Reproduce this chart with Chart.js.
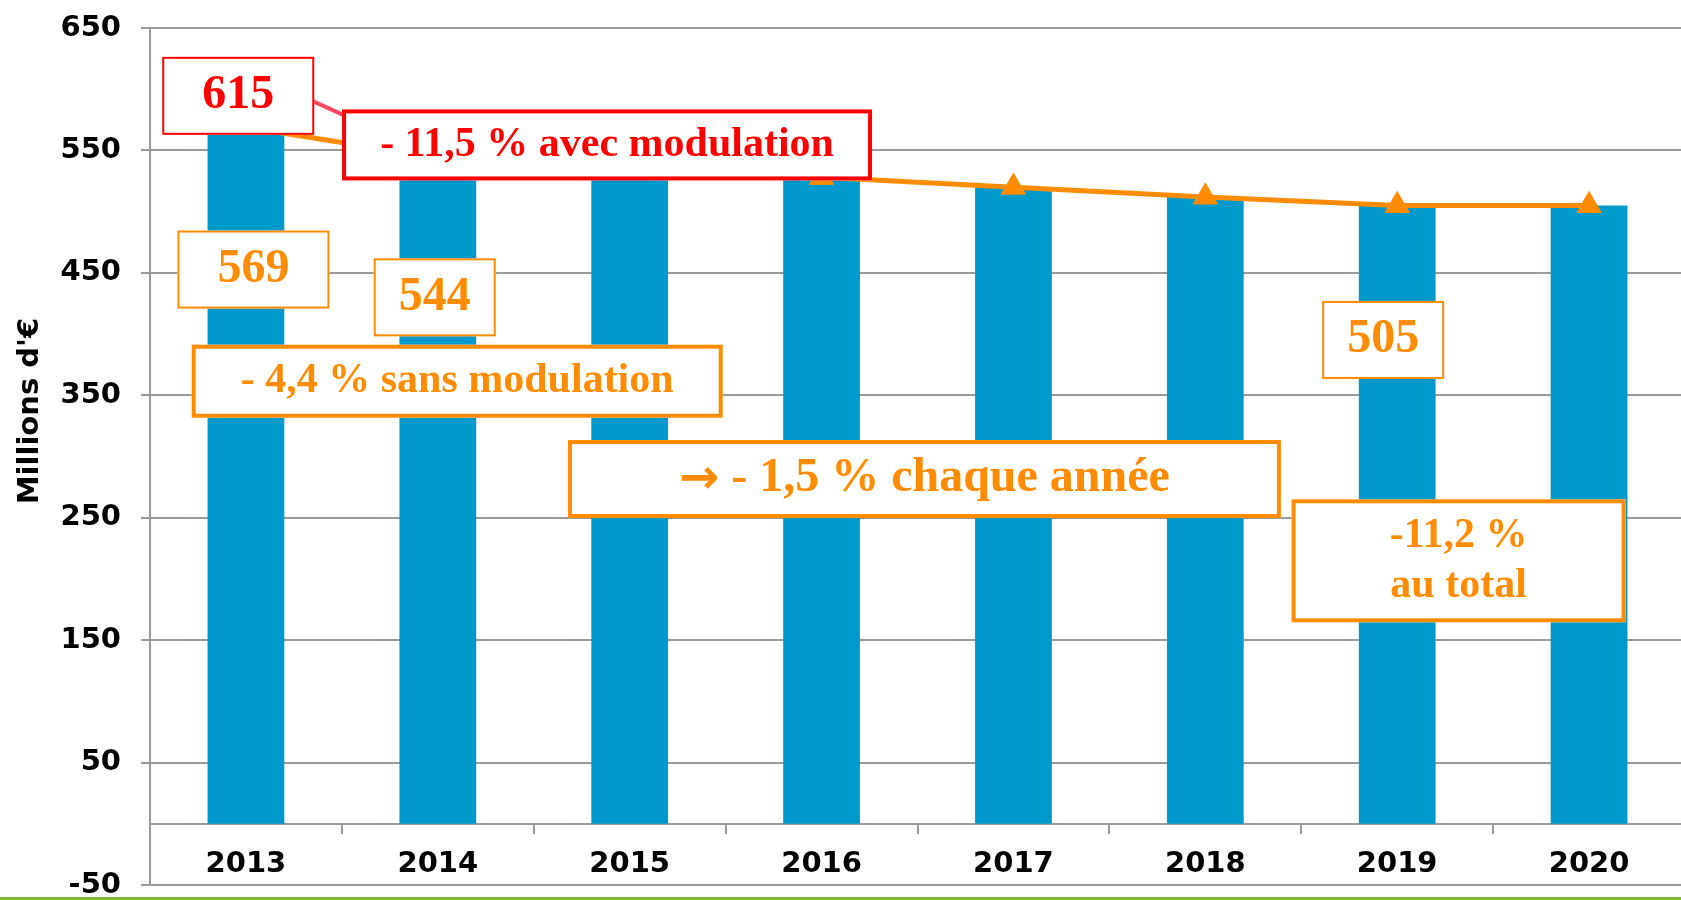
<!DOCTYPE html>
<html>
<head>
<meta charset="utf-8">
<script src="https://cdn.jsdelivr.net/npm/chart.js@4.4.1/dist/chart.umd.min.js"></script>
<style>
  html, body { margin:0; padding:0; background:#fff; overflow:hidden; width:1681px; height:900px; }
  #wrap { position:relative; width:1700px; height:900px; }
  #wrap canvas { display:block; }
  #green { position:absolute; left:0; top:897px; width:1681px; height:3px; background:#7db92c; }
</style>
</head>
<body>
<div id="wrap">
  <canvas id="chart" width="1700" height="900"></canvas>
  <div id="green"></div>
</div>
<script>
// données (millions d'€)
const annees = ['2013','2014','2015','2016','2017','2018','2019','2020'];
const montants = [569, 544, 536, 528, 520, 512, 505, 505];
const tendance = [569, 544, 536, 528, 520, 512, 505, 505];
const avecModulation = [615, 544, null, null, null, null, null, null];
const yMin = -50, yMax = 650, yStep = 100;
const yTitre = "Millions d'\u20ac";

// encadrés : position en (index d'année, valeur)
const notes = [
  { at:[-0.04, 594.6], w:152, h:78, lines:['615'], col:'#ff0000', size:48, bw:2 },
  { at:[1.882, 554.5], w:530, h:71, lines:['- 11,5 % avec modulation'], col:'#ff0000', size:42, bw:4 },
  { at:[0.039, 452.7], w:152, h:78, lines:['569'], col:'#ff8c00', size:48, bw:2 },
  { at:[0.984, 430], w:122, h:78, lines:['544'], col:'#ff8c00', size:48, bw:2 },
  { at:[1.101, 361.5], w:531, h:73, lines:['- 4,4 % sans modulation'], col:'#ff8c00', size:42, bw:4 },
  { at:[3.536, 281.6], w:713, h:78, lines:['- 1,5 % chaque ann\u00e9e'], arrow:true, col:'#ff8c00', size:48, bw:4 },
  { at:[5.927, 395.2], w:122, h:78, lines:['505'], col:'#ff8c00', size:48, bw:2 },
  { at:[6.32, 214.8], w:334, h:123, lines:['-11,2 %','au total'], col:'#ff8c00', size:42, bw:4, lh:50 }
];

const gris = '#9a9a9a';
const axisFont = { family:'"DejaVu Sans", Verdana, sans-serif', size:29, weight:'bold' };

const notesPlugin = {
  id:'notes',
  afterDatasetsDraw(chart){
    const ctx = chart.ctx, x = chart.scales.x, y = chart.scales.y;
    ctx.save();
    notes.forEach(n=>{
      const cx = x.getPixelForValue(n.at[0]);
      const cy = y.getPixelForValue(n.at[1]);
      const l = cx - n.w/2, t = cy - n.h/2;
      ctx.fillStyle = '#fff';
      ctx.fillRect(l, t, n.w, n.h);
      ctx.lineWidth = n.bw;
      ctx.strokeStyle = n.col;
      ctx.strokeRect(l + n.bw/2, t + n.bw/2, n.w - n.bw, n.h - n.bw);
      ctx.fillStyle = n.col;
      const serif = `bold ${n.size}px "Liberation Serif", "Times New Roman", serif`;
      ctx.textBaseline = 'middle';
      const lh = n.lh || n.size;
      n.lines.forEach((s,i)=>{
        const ty = cy + (i - (n.lines.length-1)/2) * lh;
        if(n.arrow){
          const arrowFont = `bold ${n.size}px "DejaVu Sans", sans-serif`;
          ctx.font = arrowFont; const aw = ctx.measureText('\u2192').width;
          ctx.font = serif; const gap = ctx.measureText(' ').width; const tw = ctx.measureText(s).width;
          let sx = cx - (aw + gap + tw)/2;
          ctx.textAlign = 'left';
          ctx.font = arrowFont; ctx.fillText('\u2192', sx, ty + 2);
          ctx.font = serif; ctx.fillText(s, sx + aw + gap, ty);
        } else {
          ctx.font = serif;
          ctx.textAlign = 'center';
          ctx.fillText(s, cx, ty);
        }
      });
    });
    ctx.restore();
  }
};

new Chart(document.getElementById('chart'), {
  type:'bar',
  data:{
    labels: annees,
    datasets:[
      { type:'line', label:'avec modulation', data:avecModulation, borderColor:'#ff4561', borderWidth:4,
        pointRadius:0, fill:false, order:1 },
      { type:'line', label:'sans modulation', data:tendance, borderColor:'#ff8c00', borderWidth:5,
        pointStyle:'triangle', pointRadius:14, pointBackgroundColor:'#ff8c00', pointBorderColor:'#ff8c00',
        pointBorderWidth:1, fill:false, order:2 },
      { label:'Montant', data:montants, backgroundColor:'#0099cc', barPercentage:0.4, categoryPercentage:1.0, order:3 }
    ]
  },
  options:{
    responsive:false,
    animation:false,
    events:[],
    layout:{ padding:{ top:28, bottom:11, left:0, right:9 } },
    plugins:{ legend:{display:false}, tooltip:{enabled:false} },
    scales:{
      x:{
        position:{ y:0 },
        offset:true,
        grid:{ display:true, drawOnChartArea:false, drawTicks:true, tickLength:9, color:gris, lineWidth:2, offset:true },
        border:{ display:true, color:gris, width:2 },
        ticks:{ color:'#000', font:axisFont, padding:14, maxRotation:0, autoSkip:false },
        afterFit(s){ s.paddingLeft = 0; s.paddingRight = 0; }
      },
      y:{
        position:'left',
        min:yMin, max:yMax,
        ticks:{ stepSize:yStep, color:'#000', font:axisFont, padding:20 },
        grid:{ color:gris, lineWidth:2, tickLength:9 },
        border:{ display:true, color:gris, width:2 },
        title:{ display:true, text:'         ' + yTitre, color:'#000',
                font:{ family:'"DejaVu Sans", Verdana, sans-serif', size:29, weight:'bold' },
                padding:{ top:13, bottom:0 } },
        afterFit(s){ s.width = 150; s.paddingTop = 0; s.paddingBottom = 0; }
      }
    }
  },
  plugins:[notesPlugin]
});
</script>
</body>
</html>
